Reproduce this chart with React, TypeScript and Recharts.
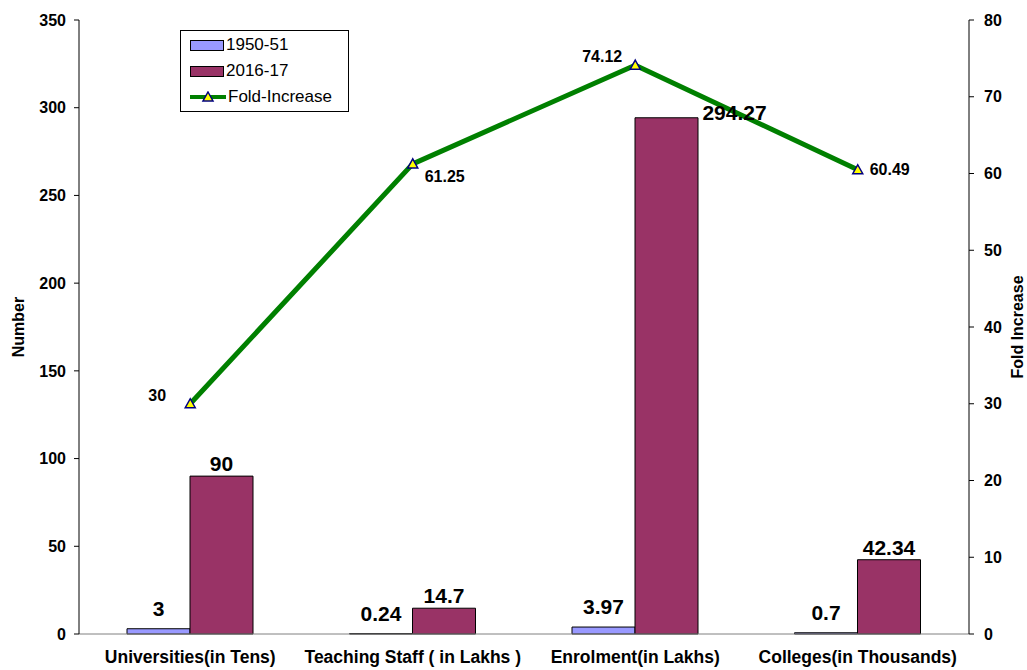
import React from 'react';
import {
  ComposedChart,
  Bar,
  Line,
  XAxis,
  YAxis,
  LabelList,
} from 'recharts';

const categories = [
  'Universities(in Tens)',
  'Teaching Staff ( in Lakhs )',
  'Enrolment(in Lakhs)',
  'Colleges(in Thousands)',
];
const values1950 = [3, 0.24, 3.97, 0.7];
const values2016 = [90, 14.7, 294.27, 42.34];
const foldIncrease = [30, 61.25, 74.12, 60.49];
const leftTicks = [0, 50, 100, 150, 200, 250, 300, 350];
const rightTicks = [0, 10, 20, 30, 40, 50, 60, 70, 80];

const FONT = 'Arial, "Liberation Sans", sans-serif';
const BLUE = '#9999FF';
const MAROON = '#993366';
const GREEN = '#008000';

const data = categories.map((name, i) => ({
  name,
  y1950: values1950[i],
  y2016: values2016[i],
  fold: foldIncrease[i],
}));

// where each fold-increase label sits relative to its point
const foldLabelSide = ['left', 'right', 'left', 'right'];

function Triangle(props: any) {
  const { cx, cy } = props;
  if (cx == null || cy == null) return null;
  return (
    <path
      d={`M${cx},${cy - 5} L${cx + 5},${cy + 4} L${cx - 5},${cy + 4} Z`}
      fill="#FFFF00"
      stroke="#000080"
      strokeWidth={1.5}
    />
  );
}

function FoldLabel(props: any) {
  const { x, y, value, index } = props;
  const left = foldLabelSide[index] === 'left';
  const below = index === 1;
  return (
    <text
      x={left ? x - 33 : x + 32}
      y={below ? y + 18 : left ? y - 3 : y + 5}
      textAnchor="middle"
      fontFamily={FONT}
      fontWeight="bold"
      fontSize={16}
      fill="#000"
    >
      {value}
    </text>
  );
}

function BarLabel2016(props: any) {
  const { x, y, width, value, index } = props;
  const shifted = index === 2;
  return (
    <text
      x={x + width / 2 + (shifted ? 68 : 0)}
      y={shifted ? y + 2 : y - 5}
      textAnchor="middle"
      fontFamily={FONT}
      fontWeight="bold"
      fontSize={21}
      fill="#000"
    >
      {value}
    </text>
  );
}

function BarLabel1950(props: any) {
  const { x, y, width, value } = props;
  return (
    <text
      x={x + width / 2}
      y={y - 13}
      textAnchor="middle"
      fontFamily={FONT}
      fontWeight="bold"
      fontSize={21}
      fill="#000"
    >
      {value}
    </text>
  );
}

function AxisTitle(props: any) {
  const { viewBox, value, side } = props;
  const cy = viewBox.y + viewBox.height / 2;
  const cx = side === 'left' ? 18 : 1017;
  return (
    <text
      x={cx}
      y={cy}
      transform={`rotate(-90 ${cx} ${cy})`}
      textAnchor="middle"
      dominantBaseline="central"
      fontFamily={FONT}
      fontWeight="bold"
      fontSize={16}
      fill="#000"
    >
      {value}
    </text>
  );
}

function LegendBox() {
  const row = { display: 'flex', alignItems: 'center', height: 26 } as const;
  return (
    <div
      style={{
        position: 'absolute',
        left: 180,
        top: 30,
        border: '1px solid #000',
        background: '#fff',
        padding: '1px 4px 1px 9px',
        fontFamily: FONT,
        fontSize: 17,
        width: 154,
        boxSizing: 'content-box',
      }}
    >
      <div style={row}>
        <span style={{ width: 32, height: 9, background: BLUE, border: '1px solid #000', marginRight: 2 }} />
        1950-51
      </div>
      <div style={row}>
        <span style={{ width: 32, height: 9, background: MAROON, border: '1px solid #000', marginRight: 2 }} />
        2016-17
      </div>
      <div style={row}>
        <svg width={36} height={12} style={{ marginRight: 2 }}>
          <line x1={0} y1={6} x2={36} y2={6} stroke={GREEN} strokeWidth={4} />
          <Triangle cx={18} cy={6} />
        </svg>
        Fold-Increase
      </div>
    </div>
  );
}

export default function App() {
  const tickStyle = { fontFamily: FONT, fontWeight: 'bold', fontSize: 16, fill: '#000' };
  return (
    <div style={{ position: 'absolute', left: 0, top: 0, width: 1027, height: 670, background: '#fff' }}>
      <style>{`body{margin:0}`}</style>
      <ComposedChart
        width={1027}
        height={670}
        data={data}
        margin={{ top: 20, right: 0, bottom: 0, left: 0 }}
        barGap={0}
        barCategoryGap="21%"
      >
        <XAxis
          dataKey="name"
          height={36}
          stroke="#808080"
          tickLine={false}
          interval={0}
          tick={{ ...tickStyle, fontSize: 17.5 }}
          tickMargin={11}
        />
        <YAxis
          yAxisId="left"
          width={79}
          domain={[0, 350]}
          ticks={leftTicks}
          stroke="#000"
          tick={tickStyle}
          tickSize={5}
          tickMargin={8}
          label={(p: any) => <AxisTitle {...p} value="Number" side="left" />}
        />
        <YAxis
          yAxisId="right"
          orientation="right"
          width={58}
          domain={[0, 80]}
          ticks={rightTicks}
          stroke="#000"
          tick={tickStyle}
          tickSize={5}
          tickMargin={10}
          label={(p: any) => <AxisTitle {...p} value="Fold Increase" side="right" />}
        />
        <Bar
          yAxisId="left"
          dataKey="y1950"
          name="1950-51"
          fill={BLUE}
          stroke="#000"
          strokeWidth={1}
          barSize={63}
          isAnimationActive={false}
        >
          <LabelList dataKey="y1950" content={BarLabel1950} />
        </Bar>
        <Bar
          yAxisId="left"
          dataKey="y2016"
          name="2016-17"
          fill={MAROON}
          stroke="#000"
          strokeWidth={1}
          barSize={63}
          isAnimationActive={false}
        >
          <LabelList dataKey="y2016" content={BarLabel2016} />
        </Bar>
        <Line
          yAxisId="right"
          dataKey="fold"
          name="Fold-Increase"
          stroke={GREEN}
          strokeWidth={5}
          dot={<Triangle />}
          activeDot={false}
          isAnimationActive={false}
        >
          <LabelList dataKey="fold" content={FoldLabel} />
        </Line>
      </ComposedChart>
      <LegendBox />
    </div>
  );
}
